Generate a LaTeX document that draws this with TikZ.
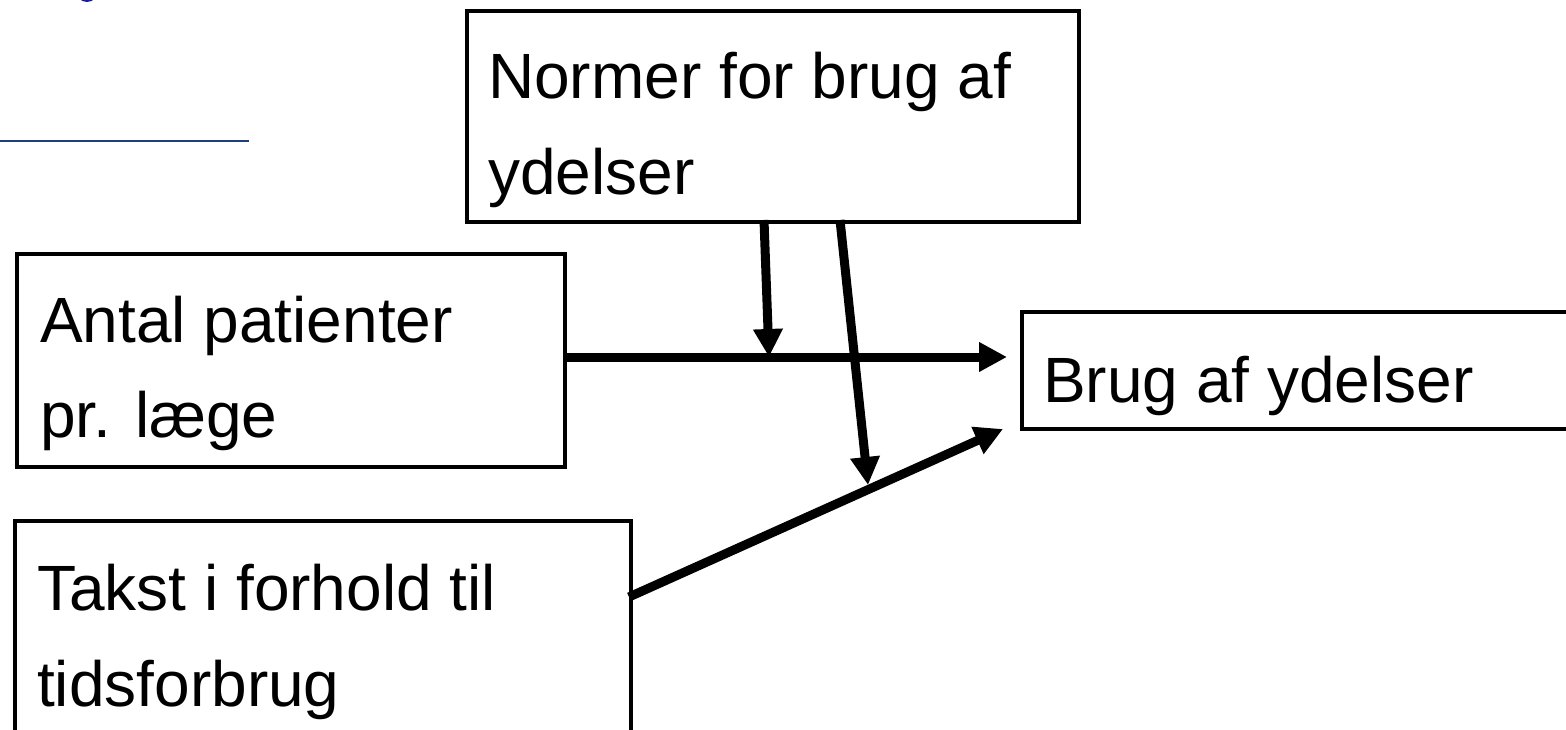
\documentclass[tikz,border=0pt]{standalone}
\usepackage{fontspec}
\setmainfont{Liberation Sans}
\usetikzlibrary{arrows.meta}
\begin{document}
\begin{tikzpicture}[x=1pt,y=-1pt,
  box/.style={draw=black,line width=4pt,inner sep=0pt,anchor=north west},
  txt/.style={anchor=base west,inner sep=0pt,font=\fontsize{64}{96}\selectfont},
  conn/.style={line width=9pt,-{Triangle[length=28pt,width=28pt]}}]
\clip (0,0) rectangle (1566,730);
\fill[white] (0,0) rectangle (1566,730);
% logo remnants
\fill[blue!60!black!90] (87,-9) ellipse (11 and 11);
\draw[line width=2pt,color={rgb,255:red,31;green,63;blue,120}] (0,141) -- (249,141);
% boxes
\node[box,minimum width=612pt,minimum height=211pt] (normer) at (465,9) {};
\node[box,minimum width=548pt,minimum height=213pt] (antal) at (15,252) {};
\node[box,minimum width=600pt,minimum height=117pt] (brug) at (1020,310) {};
\node[box,minimum width=616pt,minimum height=260pt] (takst) at (13,519) {};
% texts
\node[txt] (normer1) at (488,99) {Normer for brug af};
\node[txt] (normer2) at (488,195) {ydelser};
\node[txt] (antal1) at (40,342) {Antal patienter};
\node[txt] (antal2) at (40,437) {pr. læge};
\node[txt] (brug1) at (1043,402) {Brug af ydelser};
\node[txt] (takst1) at (37,610) {Takst i forhold til};
\node[txt] (takst2) at (37,706) {tidsforbrug};
% connector points
\coordinate (a1s) at (764,220);
\coordinate (a1e) at (769,357);
\coordinate (a2s) at (840,220);
\coordinate (a2e) at (868,485);
\coordinate (hs) at (563,357);
\coordinate (he) at (1007,357);
\coordinate (ts) at (629,597);
\coordinate (te) at (1003,429);
\draw[conn] (hs) -- (he);
\draw[conn] (a1s) -- (a1e);
\draw[conn] (a2s) -- (a2e);
\draw[conn] (ts) -- (te);
\end{tikzpicture}
\end{document}
